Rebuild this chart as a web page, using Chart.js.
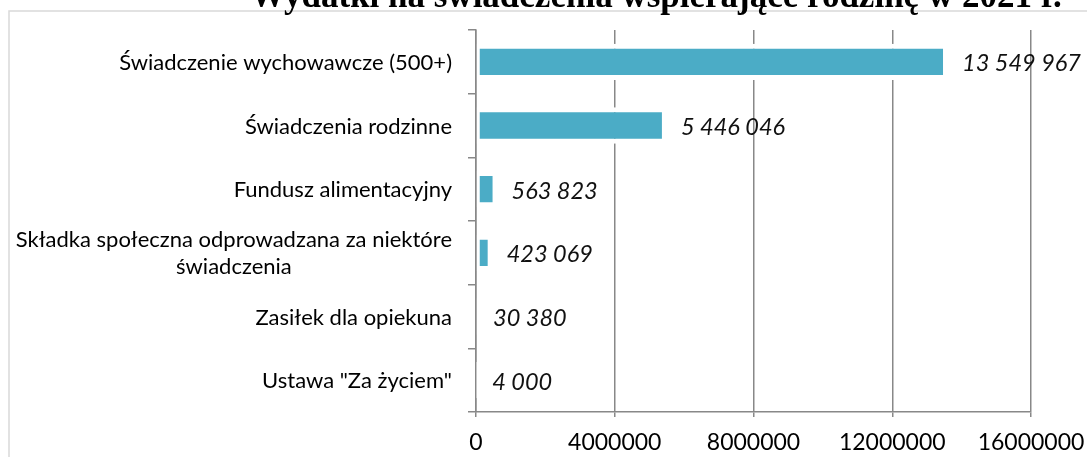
<!DOCTYPE html>
<html lang="pl">
<head>
<meta charset="utf-8">
<title>Wydatki na świadczenia wspierające rodzinę w 2021 r.</title>
<script src="https://cdn.jsdelivr.net/npm/chart.js@4"></script>
<style>
  html, body { margin: 0; padding: 0; background: #fff; overflow: hidden; }
  #chart { display: block; }
</style>
</head>
<body>
<canvas id="chart" width="1087" height="457"></canvas>
<script>
// Data
const chartTitle = 'Wydatki na świadczenia wspierające rodzinę w 2021 r.';
const categories = [
  'Świadczenie wychowawcze (500+)',
  'Świadczenia rodzinne',
  'Fundusz alimentacyjny',
  ['Składka społeczna odprowadzana za niektóre', 'świadczenia'],
  'Zasiłek dla opiekuna',
  'Ustawa "Za życiem"'
];
const expenses = [13549967, 5446046, 563823, 423069, 30380, 4000];
const axisTicks = [0, 4000000, 8000000, 12000000, 16000000];

const sansFont = 'Lato, "Open Sans", sans-serif';
const barColor = '#4bacc6';
const gridColor = '#888888';

// numbers like 13 549 967
function spaced(n) {
  return String(n).replace(/\B(?=(\d{3})+(?!\d))/g, ' ');
}

// frame + title (title sits half outside the picture, like in the source)
const framePlugin = {
  id: 'frame',
  beforeDraw(chart) {
    const ctx = chart.ctx;
    ctx.save();
    ctx.strokeStyle = '#d9d9d9';
    ctx.lineWidth = 1.5;
    ctx.strokeRect(9, 11, 1300, 700);
    ctx.restore();
  },
  afterDraw(chart) {
    const ctx = chart.ctx;
    ctx.save();
    ctx.fillStyle = '#000';
    ctx.font = 'bold 35px "Liberation Serif", "Times New Roman", serif';
    ctx.textAlign = 'center';
    ctx.textBaseline = 'alphabetic';
    ctx.fillText(chartTitle, 656, 7);
    ctx.restore();
  }
};

// category labels, wrapped lines centred on each other
const categoryLabels = {
  id: 'categoryLabels',
  afterDraw(chart) {
    const ctx = chart.ctx;
    const yScale = chart.scales.y;
    const rightEdge = 452;
    const lineHeight = 27;
    ctx.save();
    ctx.font = '22px ' + sansFont;
    ctx.fillStyle = '#000';
    ctx.textAlign = 'center';
    ctx.textBaseline = 'middle';
    categories.forEach((label, i) => {
      const lines = Array.isArray(label) ? label : [label];
      const maxW = Math.max(...lines.map(l => ctx.measureText(l).width));
      const cx = rightEdge - maxW / 2;
      const y = yScale.getPixelForTick(i) + 1;
      lines.forEach((line, j) => {
        ctx.fillText(line, cx, y + (j - (lines.length - 1) / 2) * lineHeight);
      });
    });
    ctx.restore();
  }
};

// value labels after each bar
const valueLabels = {
  id: 'valueLabels',
  afterDatasetsDraw(chart) {
    const ctx = chart.ctx;
    const xScale = chart.scales.x;
    const yScale = chart.scales.y;
    ctx.save();
    ctx.font = 'italic 23.5px ' + sansFont;
    ctx.fillStyle = '#111';
    ctx.textAlign = 'left';
    ctx.textBaseline = 'middle';
    expenses.forEach((v, i) => {
      const x = xScale.getPixelForValue(v) + 16;
      const y = yScale.getPixelForTick(i) + 2;
      ctx.fillText(spaced(v), x, y);
    });
    ctx.restore();
  }
};

const ctx = document.getElementById('chart').getContext('2d');
const expensesChart = new Chart(ctx, {
  type: 'bar',
  data: {
    labels: categories,
    datasets: [{
      data: expenses,
      backgroundColor: barColor,
      borderColor: '#ffffff',
      borderWidth: { left: 3, right: 3, top: 5, bottom: 5 },
      borderSkipped: false,
      barPercentage: 0.57,
      categoryPercentage: 1
    }]
  },
  options: {
    indexAxis: 'y',
    responsive: false,
    animation: false,
    layout: { padding: { top: 30, right: 56, left: 0, bottom: 0 } },
    plugins: {
      legend: { display: false },
      title: { display: false },
      tooltip: { enabled: false }
    },
    scales: {
      x: {
        min: 0,
        max: 16000000,
        afterBuildTicks(scale) {
          scale.ticks = axisTicks.map(v => ({ value: v }));
        },
        afterFit(scale) {
          scale.height = 45;
          scale.paddingLeft = 0;
          scale.paddingRight = 0;
        },
        grid: { color: gridColor, lineWidth: 1.5, tickLength: 5 },
        border: { color: gridColor, width: 1.5 },
        ticks: {
          color: '#000',
          font: { family: sansFont, size: 23 },
          padding: 12,
          maxRotation: 0,
          autoSkip: false,
          callback: v => String(v)
        }
      },
      y: {
        z: 1,
        afterFit(scale) {
          scale.width = 476;
          scale.paddingTop = 0;
          scale.paddingBottom = 0;
        },
        grid: { color: gridColor, lineWidth: 1.5, drawOnChartArea: false, tickLength: 8, offset: true },
        border: { color: gridColor, width: 1.5 },
        ticks: { display: false }
      }
    }
  },
  plugins: [framePlugin, categoryLabels, valueLabels]
});
</script>
</body>
</html>
